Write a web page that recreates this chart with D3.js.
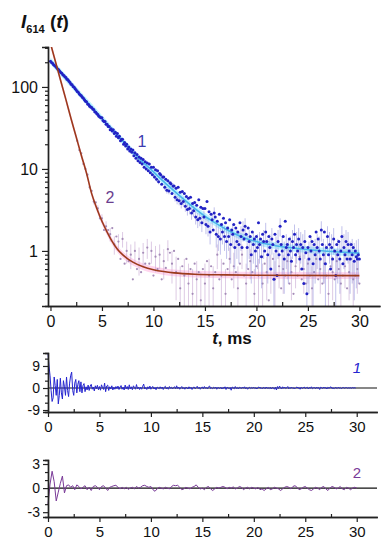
<!DOCTYPE html>
<html>
<head>
<meta charset="utf-8">
<script src="https://cdn.jsdelivr.net/npm/d3@7"></script>
<style>
  body { margin: 0; background: #fff; }
  svg { display: block; font-family: "Liberation Sans", Arial, sans-serif; }
</style>
</head>
<body>
<svg id="chart" width="391" height="550"></svg>
<script>
// Decay 1 (blue points), one value every 0.1 ms from 0 to 30 ms
const decay1 = [
  206,198,195,186,183,177,172,165,162,155,
  150,147,141,138,133,130,124,122,117,113,
  108,106,101,99,95,92,88,86,82,80,
  78,75,73,70,67,66,62,61,58,57,
  56,54,53,50,49,47,46,44,43,42,
  42,39,38,38,35,35,33,33,30,31,
  29,30,27,28,25,27,24,25,22,23,
  23,20,21,19,20,17.5,18.5,16.5,17.5,16,
  17,14.5,15.8,13.5,15,12.6,14,12,13.5,11.5,
  13,10.5,12.2,10,11.8,9.5,11.5,9,10.5,8.5,
  10.5,8,9.8,7.5,9.5,7,8.8,8.5,6.5,8,
  8,6,7.5,5.5,7.2,5.4,6.8,6.6,5,6.2,
  6.2,4.5,5.8,4.2,6,4.1,5.2,3.8,5.3,4,
  5,3.5,4.6,3.2,4.4,3.3,4.5,2.9,3.8,3.1,
  3.9,2.6,3.6,2.4,4.2,2.5,3.4,2.2,3.3,2.6,
  3.3,2.1,4,2,3,1.7,2.8,2.4,1.8,2.9,
  2.6,1.6,2.3,1.5,2.8,1.4,2.1,1.7,2.5,1.5,
  2.2,1.3,1.9,1.5,2.4,1.2,1.8,1.6,2.1,1.1,
  1.9,1.3,1.7,1.2,2.2,1.5,1.1,1.8,1.4,2.0,
  1.6,1.1,1.9,1.3,1.5,0.9,1.7,1.2,1.4,1.0,
  1.5,1.1,2.2,1.2,1.4,0.85,1.6,1.3,1.0,1.7,
  1.3,0.9,1.5,1.1,0.6,1.4,1.2,0.45,1.6,1.0,
  0.5,1.3,0.9,2.0,1.2,1.0,1.5,0.8,2.3,1.1,
  1.2,0.9,1.4,1.0,0.75,1.3,1.1,1.6,0.9,1.2,
  1.0,1.4,0.8,1.2,0.6,1.1,0.4,1.3,0.95,0.3,
  1.1,0.8,1.5,1.0,1.3,0.7,1.2,0.9,1.7,1.1,
  1.4,1.0,0.8,1.8,1.2,0.9,1.7,0.7,1.1,1.5,
  0.9,1.2,0.6,1.1,0.8,1.4,1.0,0.5,1.2,0.9,
  1.3,0.8,1.0,1.5,0.7,1.1,0.9,1.3,0.8,1.2,
  1.0,0.8,1.2,0.9,1.1,0.75,1.0,0.85,0.8,0.9,
  0.8
];
const t1 = d3.range(decay1.length).map(i => i / 10);

// Decay 2 (purple points), one value every 0.2 ms from 2.6 to 30 ms
const decay2 = [
  22,17,15.5,11.5,10,
  8.5,6.0,5.4,4.0,3.9,
  3.3,2.5,2.5,1.8,2.0,
  1.8,1.6,1.9,1.2,1.5,
  1.3,0.8,1.4,0.7,1.0,
  0.75,0.9,0.45,1.0,0.6,
  0.8,0.55,0.95,0.7,1.1,
  0.7,1.0,0.5,0.85,0.6,
  0.9,0.45,0.75,0.62,1.05,
  0.95,0.7,1.0,0.55,0.8,
  0.35,0.65,0.5,0.8,0.4,
  0.6,0.3,0.7,0.45,0.55,
  0.25,0.6,0.4,0.75,0.5,
  0.65,0.35,0.55,0.9,0.45,
  0.5,0.7,0.3,0.6,0.8,
  0.45,0.65,0.55,0.35,0.7,
  0.9,0.5,0.4,0.6,0.75,
  0.55,0.3,0.65,0.5,0.85,
  0.4,0.7,0.55,0.25,0.6,
  0.8,0.45,0.5,0.65,0.35,
  0.6,0.5,0.75,0.4,0.55,
  0.3,0.65,0.5,0.85,0.45,
  0.6,0.4,0.7,0.5,0.35,
  0.55,0.8,0.45,0.6,0.4,
  0.7,0.5,0.3,0.65,0.55,
  0.45,0.75,0.6,0.4,0.5,
  0.65,0.35,0.55,0.8,0.45,
  0.5,0.6,0.4
];
const t2 = d3.range(decay2.length).map(i => 2.6 + i * 0.2);

// Fitted curves
const fitT1 = [0,1,2,3,4,5,6,7,8,9,10,11,12,13,14,15,16,17,18,19,20,22,24,26,28,30];
const fitV1 = [208,150,108,78,57,41,30,22,16,12,9.2,7.0,5.4,4.2,3.3,2.65,2.2,1.85,1.6,1.42,1.3,1.15,1.07,1.01,0.97,0.94];
const fitT2 = [0,0.5,1,1.5,2,2.5,3,3.5,4,4.5,5,5.5,6,6.5,7,7.5,8,9,10,11,12,14,17,20,30];
const fitV2 = [340,200,118,70,41,24.5,14.6,8.9,5.0,3.3,2.3,1.7,1.3,1.05,0.9,0.8,0.73,0.64,0.59,0.56,0.54,0.52,0.51,0.505,0.5];

// Residuals 1 (every 0.1 ms) and 2 (every 0.2 ms)
const resid1 = [
  14,9,5,-1,-5.5,-4,4.5,1,-3,3.5,
  -6.5,-3,4,-2,-4.5,3,0.5,-3,4.5,-1,
  -3.5,2,5,6.5,-1,-3,2,3.5,-2,1.5,
  3,-1.5,2.5,-2,1,1.8,-1.5,0.5,-0.8,1.2,
  -1,0.8,1.5,-0.5,0.4,-1.2,0.9,-0.3,1.1,-0.7,
  0.6,-0.9,1.3,0.2,-0.6,2,-1.5,0.8,1.2,-1,
  0.5,-0.4,0.9,-0.8,0.3,-0.5,0.6,-0.2,0.8,-0.6,
  0.4,1.0,-0.5,0.3,-0.8,1.2,-0.3,0.6,-0.6,1.3,
  -0.4,0.5,-0.7,0.9,0.2,-0.5,1.4,-0.3,0.4,-0.6,
  0.3,-0.5,0.7,1.6,-0.4,0.2,-0.6,0.5,-0.3,0.8,
  -0.5,0.3,0.6,-0.4,0.2,-0.7,0.4,0.1,-0.3,0.5,
  -0.2,0.4,-0.6,0.3,0.7,-0.4,0.2,-0.5,0.6,-0.1,
  0.3,-0.4,0.2,0.5,-0.3,0.9,-0.2,0.4,-0.5,0.1,
  0.6,-0.3,0.2,-0.5,0.3,0.1,-0.4,0.5,-0.2,0.3,
  -0.6,0.2,0.4,-0.3,0.1,0.7,-0.2,0.3,-0.5,0.2,
  0.4,-0.3,0.6,-0.1,0.2,-0.4,0.5,0.8,-0.2,0.1,
  -0.3,0.3,-0.1,0.4,-0.5,0.2,0.1,-0.2,0.3,-0.4,
  0.2,-0.1,0.5,-0.6,0.3,0.1,-0.3,0.2,-0.9,0.4,
  0.1,-0.3,0.6,-0.2,0.2,-0.4,0.3,0.1,-0.2,0.4,
  -0.1,0.5,-0.3,0.2,-0.5,0.1,0.3,-0.2,0.2,-0.1,
  0.3,-0.2,0.1,-0.4,0.2,0.4,-0.1,0.2,-0.3,0.1,
  0.2,-0.3,0.4,-0.1,0.1,-0.2,0.3,-0.4,0.2,0.1,
  -0.5,0.3,-0.8,0.6,-0.2,0.8,0.1,-0.4,0.5,-0.1,
  0.4,-0.2,0.1,0.6,-0.3,0.2,-0.1,0.3,-0.2,0.1,
  -0.3,0.2,0.4,-0.1,0.2,-0.5,0.3,-0.2,0.1,0.4,
  -0.2,0.1,0.3,-0.4,0.2,-0.1,0.5,-0.3,0.1,0.2,
  -0.3,0.4,-0.1,0.2,-0.6,0.3,0.1,-0.2,0.4,-0.1,
  0.2,-0.4,0.3,-0.1,0.2,0.5,-0.2,0.1,-0.3,0.2,
  0.1,-0.2,0.3,-0.1,0.2,-0.3,0.1,0.2,-0.1,0.1,
  0.2,-0.1,0.1,0.0,0.1,-0.1,0.2,0.0,0.1,0.0
];
const tr1 = d3.range(resid1.length).map(i => i / 10);

const resid2 = [
  -2.0,0.5,2.1,0.8,-1.6,-0.5,0.6,1.5,-0.6,0.3,
  0.4,0.1,0.3,-0.2,0.4,0.2,-0.1,0.1,0.3,-0.2,
  0.1,-0.3,0.2,0.3,0.1,-0.2,0.2,0.3,0.0,-0.3,
  0.1,0.2,0.3,0.35,0.1,-0.1,0.1,-0.1,0.1,-0.15,
  0.0,0.1,-0.1,0.2,0.0,0.1,0.3,0.35,0.2,0.1,
  0.2,-0.2,-0.4,-0.1,0.1,0.0,-0.1,0.1,0.0,-0.1,
  0.2,0.35,0.3,0.35,0.1,-0.2,-0.1,0.1,0.0,-0.1,
  0.1,0.2,0.4,0.1,-0.1,0.0,-0.2,0.1,0.2,-0.1,
  -0.3,-0.1,0.1,0.0,0.1,0.2,0.1,-0.1,0.1,0.0,
  0.15,-0.1,0.0,0.2,0.1,-0.2,0.0,0.1,-0.1,0.1,
  0.0,-0.1,0.1,-0.2,-0.1,-0.3,-0.1,0.1,-0.2,-0.1,
  0.1,0.0,-0.1,-0.3,-0.1,0.1,0.2,0.1,-0.1,0.2,
  0.3,0.1,-0.2,-0.1,0.1,0.2,0.0,-0.2,-0.3,-0.1,
  0.1,0.0,-0.2,0.1,0.2,-0.1,-0.3,0.0,0.2,0.1,
  -0.1,0.0,0.2,-0.1,-0.2,0.1,0.0,-0.2,0.0,0.1,
  0.0
];
const tr2 = d3.range(resid2.length).map(i => i * 0.2);

const xTicks = [0, 5, 10, 15, 20, 25, 30];
const xMinor = [2.5, 7.5, 12.5, 17.5, 22.5, 27.5];
const yTicks = [1, 10, 100];

// error bar half width (counts) and relative width of the fit bands
const sigma1 = 0.5, sigma2 = 0.3, bandFrac = 1.1;

const svg = d3.select("#chart");

// ---------- main decay plot ----------
const x = d3.scaleLinear().domain([-0.24, 32]).range([48, 380]);
const y = d3.scaleLog().domain([0.213, 307]).range([306, 47]);

svg.append("clipPath").attr("id", "clipMain")
  .append("rect").attr("x", 48).attr("y", 47).attr("width", 332).attr("height", 259);

const plot = svg.append("g").attr("clip-path", "url(#clipMain)");

const band = d3.area()
  .x(d => x(d[0]))
  .y0(d => y(d[1] / bandFrac))
  .y1(d => y(d[1] * bandFrac))
  .curve(d3.curveMonotoneX);
const fitLine = d3.line().x(d => x(d[0])).y(d => y(d[1])).curve(d3.curveMonotoneX);

const fit1 = fitT1.map((t, i) => [t, fitV1[i]]);
const fit2 = fitT2.map((t, i) => [t, fitV2[i]]);
const pts1 = t1.map((t, i) => [t, decay1[i]]);
const pts2 = t2.map((t, i) => [t, decay2[i]]);

plot.append("path").datum(fit2).attr("d", band).attr("fill", "#ffd6ee");
plot.append("path").datum(fit1).attr("d", band).attr("fill", "#bff3ff");

// purple series: error bars (every other point) and points
plot.append("g").selectAll("line").data(pts2.filter((d, i) => i % 2 === 0)).join("line")
  .attr("x1", d => x(d[0])).attr("x2", d => x(d[0]))
  .attr("y1", d => y(d[1] + sigma2))
  .attr("y2", d => y(Math.max(d[1] - sigma2, 0.05)))
  .attr("stroke", "#c6a6d2").attr("stroke-width", 0.9).attr("opacity", 0.65);
plot.append("g").selectAll("circle").data(pts2).join("circle")
  .attr("cx", d => x(d[0])).attr("cy", d => y(d[1])).attr("r", 1.1)
  .attr("fill", "#a58cb8");

// blue series: error bars, fit, points
plot.append("g").selectAll("line").data(pts1.filter((d, i) => d[0] >= 10 && i % 2 === 1)).join("line")
  .attr("x1", d => x(d[0])).attr("x2", d => x(d[0]))
  .attr("y1", d => y(d[1] + sigma1))
  .attr("y2", d => y(Math.max(d[1] - sigma1, 0.05)))
  .attr("stroke", "#8f8fdc").attr("stroke-width", 0.9).attr("opacity", 0.6);
plot.append("path").datum(fit1).attr("d", fitLine)
  .attr("fill", "none").attr("stroke", "#4cb6ea").attr("stroke-width", 1.6);
plot.append("g").selectAll("circle").data(pts1).join("circle")
  .attr("cx", d => x(d[0])).attr("cy", d => y(d[1])).attr("r", 1.5)
  .attr("fill", "#2222c4");
plot.append("path").datum(fit2).attr("d", fitLine)
  .attr("fill", "none").attr("stroke", "#9c3a1c").attr("stroke-width", 1.6);

// axes
const axisColor = "#222";
function styleAxis(g) {
  g.select(".domain").attr("stroke", axisColor).attr("stroke-width", 1.4);
  g.selectAll(".tick line").attr("stroke", axisColor).attr("stroke-width", 1.2);
  g.selectAll(".tick text").attr("fill", "#111");
}

const yMinor = [];
[0.1, 1, 10, 100].forEach(p => d3.range(2, 10).forEach(k => {
  const v = k * p;
  if (v > 0.213 && v < 307) yMinor.push(v);
}));

svg.append("g").attr("transform", "translate(48,0)")
  .call(d3.axisLeft(y).tickValues(yMinor).tickSize(3).tickFormat(""))
  .call(styleAxis);
svg.append("g").attr("transform", "translate(48,0)")
  .call(d3.axisLeft(y).tickValues(yTicks).tickSize(6).tickPadding(4).tickFormat(d3.format("d")))
  .call(styleAxis)
  .call(g => g.selectAll(".tick text").attr("font-size", 16).attr("font-family", "Liberation Sans, Arial, sans-serif"));

svg.append("g").attr("transform", "translate(0,306)")
  .call(d3.axisBottom(x).tickValues(xMinor).tickSizeInner(-4).tickSizeOuter(0).tickFormat(""))
  .call(styleAxis);
svg.append("g").attr("transform", "translate(0,306)")
  .call(d3.axisBottom(x).tickValues(xTicks).tickSizeInner(5).tickSizeOuter(0).tickPadding(5).tickFormat(d3.format("d")))
  .call(styleAxis)
  .call(g => g.selectAll(".tick text").attr("font-size", 16).attr("font-family", "Liberation Sans, Arial, sans-serif"));

// titles
const yl = svg.append("text").attr("x", 21).attr("y", 28)
  .attr("font-weight", "bold").attr("font-size", 19).attr("fill", "#111");
yl.append("tspan").attr("font-style", "italic").text("I");
yl.append("tspan").attr("font-size", 11).attr("dy", 5).text("614");
yl.append("tspan").attr("dy", -5).text(" (");
yl.append("tspan").attr("font-style", "italic").text("t");
yl.append("tspan").text(")");

const xl = svg.append("text").attr("x", 232).attr("y", 344).attr("text-anchor", "middle")
  .attr("font-weight", "bold").attr("font-size", 17).attr("fill", "#111");
xl.append("tspan").attr("font-style", "italic").text("t");
xl.append("tspan").text(", ms");

svg.append("text").attr("x", 142).attr("y", 147).attr("text-anchor", "middle")
  .attr("font-size", 16).attr("fill", "#3c3cb0").text("1");
svg.append("text").attr("x", 110).attr("y", 203).attr("text-anchor", "middle")
  .attr("font-size", 16).attr("fill", "#6a3d8e").text("2");

// ---------- residual panels ----------
const xr = d3.scaleLinear().domain([0, 32]).range([48, 377.3]);

function residPanel(cfg) {
  const yr = d3.scaleLinear().domain(cfg.domain).range([cfg.bottom, cfg.top]);
  const g = svg.append("g");

  g.append("line").attr("x1", 48).attr("x2", 377).attr("y1", yr(0)).attr("y2", yr(0))
    .attr("stroke", "#111").attr("stroke-width", 1.2);

  const line = d3.line().x(d => xr(d[0])).y(d => yr(d[1]));
  g.append("path").datum(cfg.t.map((t, i) => [t, cfg.values[i]]))
    .attr("d", line).attr("fill", "none")
    .attr("stroke", cfg.color).attr("stroke-width", 1).attr("stroke-linejoin", "round");

  g.append("g").attr("transform", "translate(48,0)")
    .call(d3.axisLeft(yr).tickValues(cfg.minor).tickSize(3).tickFormat(""))
    .call(styleAxis);
  g.append("g").attr("transform", "translate(48,0)")
    .call(d3.axisLeft(yr).tickValues(cfg.ticks).tickSize(5).tickPadding(3).tickFormat(d => d < 0 ? "-" + (-d) : d))
    .call(styleAxis)
    .call(a => a.selectAll(".tick text").attr("font-size", 14).attr("font-family", "Liberation Sans, Arial, sans-serif"));

  g.append("g").attr("transform", `translate(0,${cfg.bottom})`)
    .call(d3.axisBottom(xr).tickValues(xMinor).tickSizeInner(-3).tickSizeOuter(0).tickFormat(""))
    .call(styleAxis);
  g.append("g").attr("transform", `translate(0,${cfg.bottom})`)
    .call(d3.axisBottom(xr).tickValues(xTicks).tickSizeInner(5).tickSizeOuter(0).tickPadding(4).tickFormat(d3.format("d")))
    .call(styleAxis)
    .call(a => a.selectAll(".tick text").attr("font-size", 15).attr("font-family", "Liberation Sans, Arial, sans-serif"));

  g.append("text").attr("x", 357).attr("y", cfg.labelY).attr("text-anchor", "middle")
    .attr("font-size", 15).attr("font-style", cfg.labelStyle).attr("fill", cfg.color).text(cfg.label);
}

residPanel({
  domain: [-9.8, 14.3], top: 353, bottom: 412,
  ticks: [-9, 0, 9], minor: [-6, -3, 3, 6, 12],
  t: tr1, values: resid1, color: "#2525d0",
  label: "1", labelY: 373, labelStyle: "italic"
});
residPanel({
  domain: [-3.6, 3.5], top: 460, bottom: 517,
  ticks: [-3, 0, 3], minor: [-2, -1, 1, 2],
  t: tr2, values: resid2, color: "#7a3a98",
  label: "2", labelY: 478, labelStyle: "normal"
});
</script>
</body>
</html>
